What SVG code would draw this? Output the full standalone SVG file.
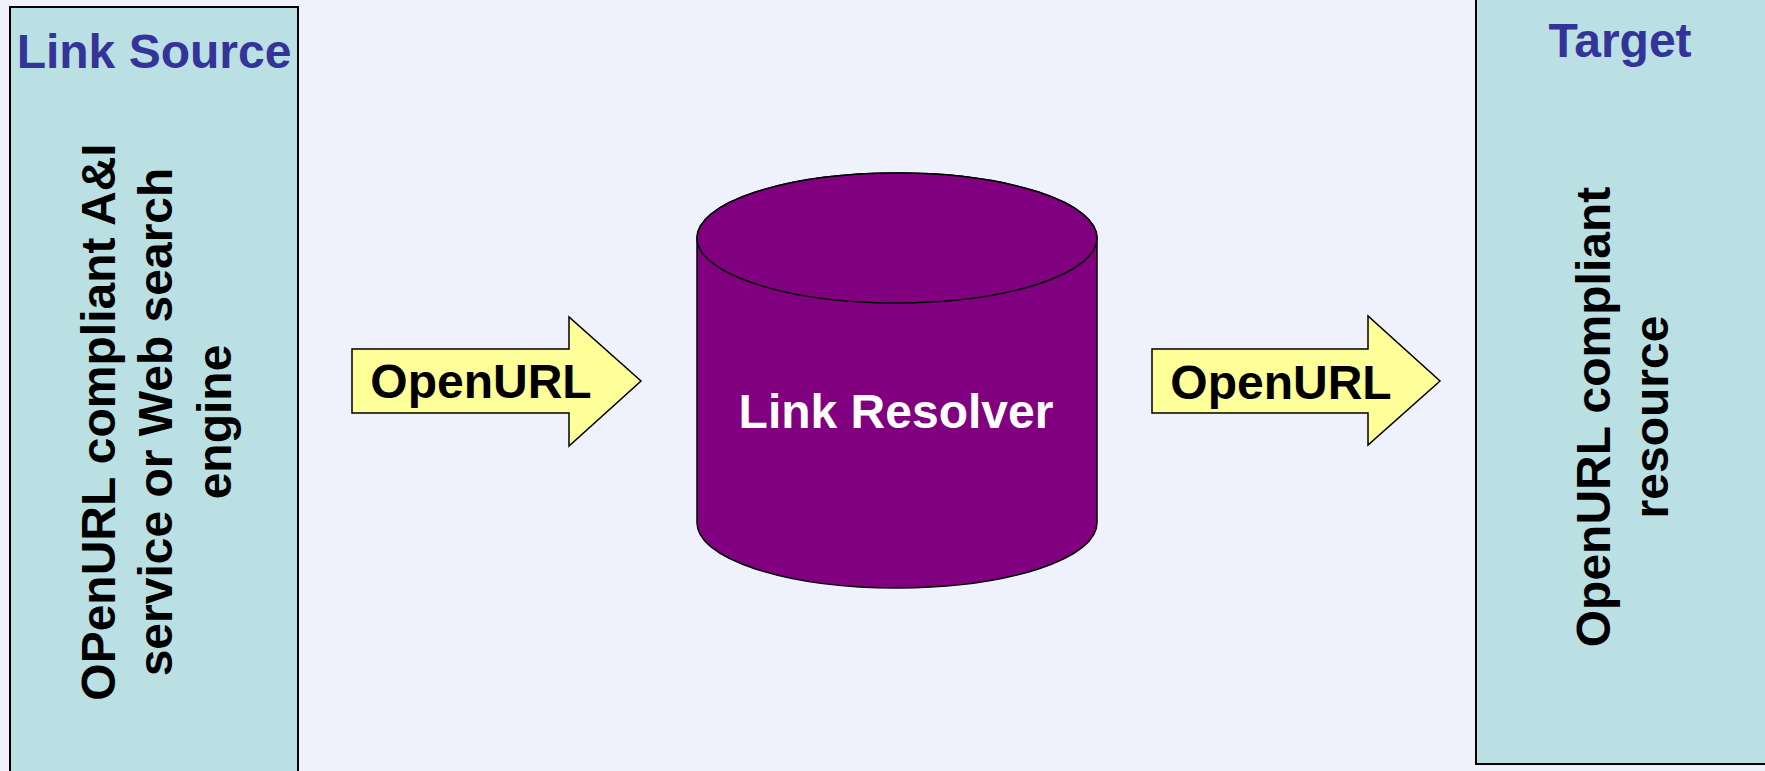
<svg xmlns="http://www.w3.org/2000/svg" width="1765" height="771" viewBox="0 0 1765 771">
  <style>
    .bg { fill: #EFF1FD; }
    .panel { fill: #BBE0E3; stroke: #000; stroke-width: 2; }
    .title { font-family: "Liberation Sans", Arial, sans-serif; font-weight: bold; font-size: 48px; fill: #333399; text-anchor: middle; }
    .body { font-family: "Liberation Sans", Arial, sans-serif; font-weight: bold; font-size: 48px; fill: #000; text-anchor: middle; }
    .cyl { fill: #800080; stroke: #000; stroke-width: 1.5; }
    .cyltext { font-family: "Liberation Sans", Arial, sans-serif; font-weight: bold; font-size: 48px; fill: #FFFFFF; text-anchor: middle; }
    .arrow { fill: #FFFF99; stroke: #000; stroke-width: 1.5; stroke-linejoin: miter; }
  </style>
  <rect class="bg" x="0" y="0" width="1765" height="771"/>

  <g id="link-source">
    <rect class="panel" x="10" y="7" width="288" height="780"/>
    <text class="title" x="154" y="68">Link Source</text>
    <g transform="translate(0,422) rotate(-90)">
      <text class="body" x="0" y="115">OPenURL compliant A&amp;I</text>
      <text class="body" x="0" y="172">service or Web search</text>
      <text class="body" x="0" y="231">engine</text>
    </g>
  </g>

  <g id="link-resolver">
    <path class="cyl" d="M697,238 L697,523 A200,65 0 0 0 1097,523 L1097,238 A200,65 0 0 0 697,238 Z"/>
    <ellipse class="cyl" cx="897" cy="238" rx="200" ry="65"/>
    <text class="cyltext" x="896" y="428">Link Resolver</text>
  </g>

  <g id="target">
    <rect class="panel" x="1476" y="-5" width="295" height="769"/>
    <text class="title" x="1620" y="57">Target</text>
    <g transform="translate(0,417) rotate(-90)">
      <text class="body" x="0" y="1610">OpenURL compliant</text>
      <text class="body" x="0" y="1668">resource</text>
    </g>
  </g>

  <g id="connectors">
    <g id="arrow-source-resolver">
      <path class="arrow" d="M352,349 L569,349 L569,317 L641,381 L569,446 L569,413 L352,413 Z"/>
      <text class="body" x="481" y="398">OpenURL</text>
    </g>
    <g id="arrow-resolver-target">
      <path class="arrow" d="M1152,349 L1368,349 L1368,316 L1440,381 L1368,445 L1368,413 L1152,413 Z"/>
      <text class="body" x="1281" y="399">OpenURL</text>
    </g>
  </g>
</svg>
